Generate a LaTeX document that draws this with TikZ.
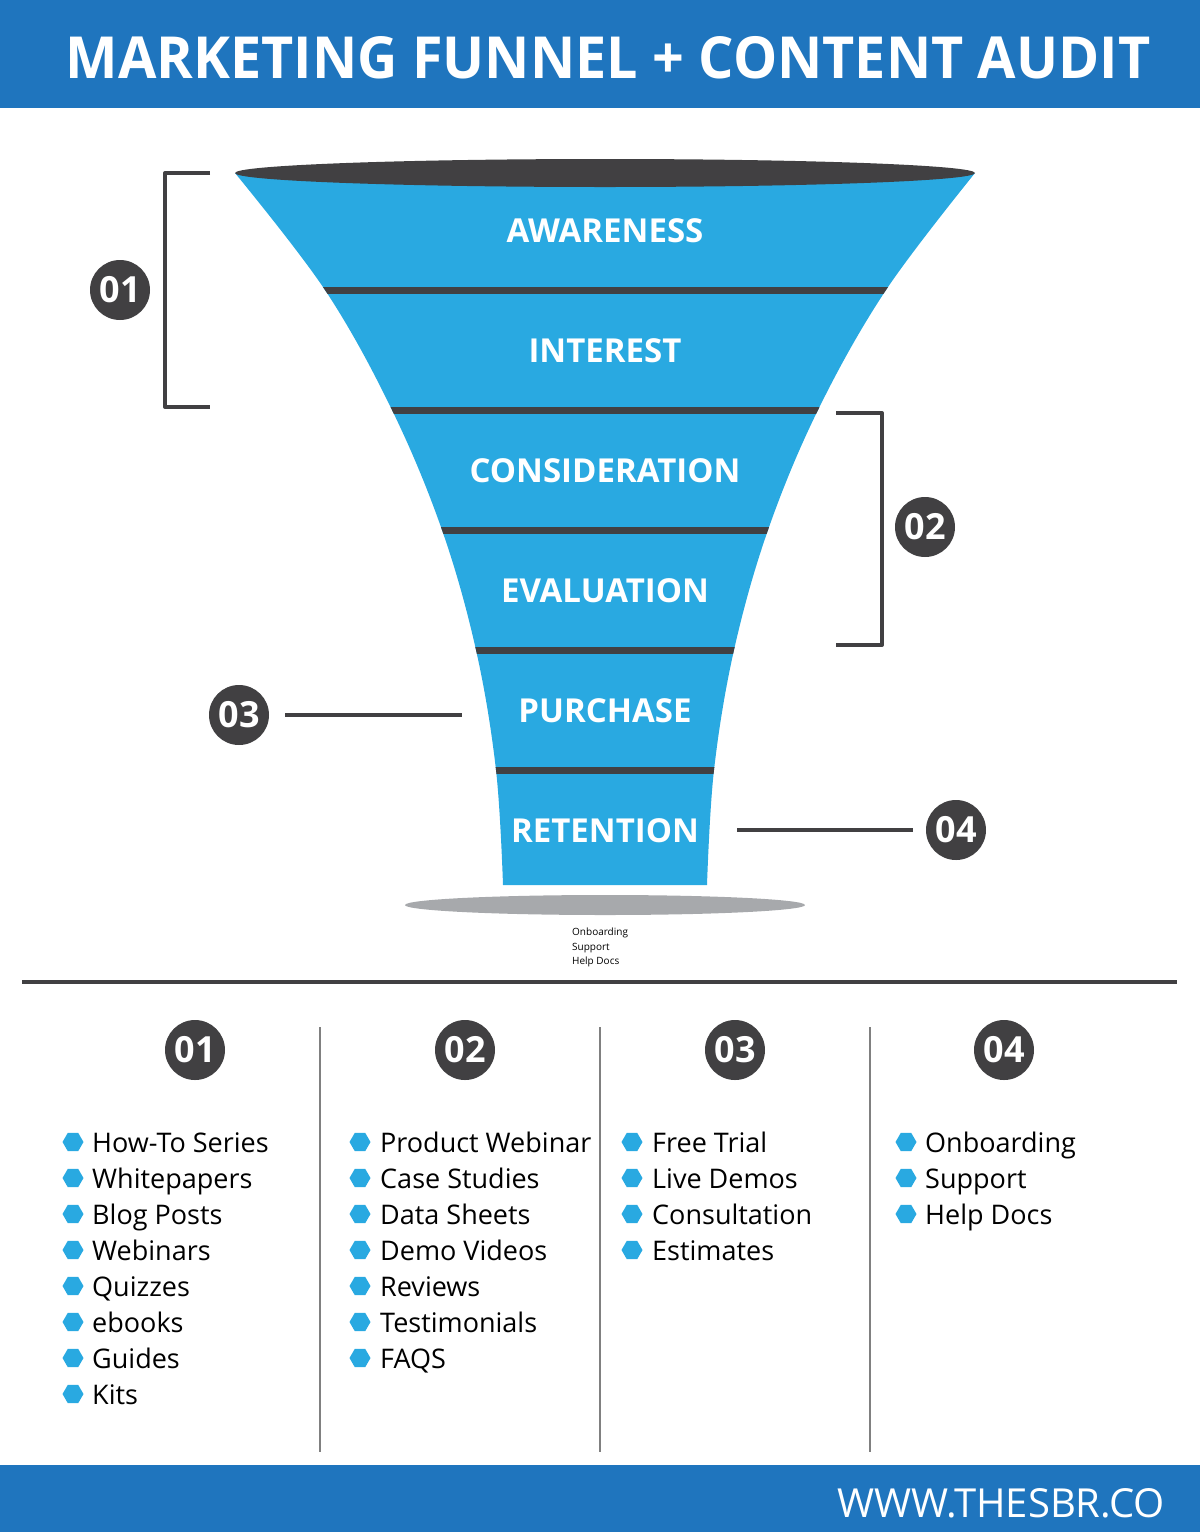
\documentclass[tikz,border=0pt]{standalone}
\usepackage{fontspec}
\setmainfont{Open Sans}
\newfontfamily\titlefont[FakeStretch=0.96]{Open Sans}
\usetikzlibrary{shapes.geometric}

\definecolor{sbrblue}{HTML}{1F75BE}
\definecolor{funnelblue}{HTML}{29A9E1}
\definecolor{funneldark}{HTML}{414042}
\definecolor{rimgray}{HTML}{A7A9AC}

% outline of the funnel body, used for the fill and the clip
\def\funnelpath{plot[smooth,tension=0.6] coordinates {(235,173) (325,290) (392,410) (442,530) (476,650) (496,770) (503,885)}
  -- plot[smooth,tension=0.6] coordinates {(707,885) (714,770) (734,650) (768,530) (818,410) (886,290) (975,173)} -- cycle}

\tikzset{
  numdot/.style={circle,fill=funneldark,text=white,minimum size=60pt,inner sep=0pt,
    font=\fontsize{36}{40}\selectfont\bfseries},
  stage/.style={text=white,inner sep=0pt,font=\fontsize{33}{40}\selectfont\bfseries},
  bar/.style={funneldark,line width=4pt},
  hexdot/.style={regular polygon,regular polygon sides=6,fill=funnelblue,minimum size=21pt,inner sep=0pt},
  item/.style={anchor=base west,inner sep=0pt,font=\fontsize{27}{32}\selectfont},
}

\begin{document}
\begin{tikzpicture}[x=1pt,y=-1pt,line join=round]
	\useasboundingbox (0,0) rectangle (1200,1532);
	
	% header and footer
	\fill[sbrblue] (0,0) rectangle (1200,108);
	\node[text=white,font=\fontsize{58}{64}\titlefont\bfseries] (title) at (608,58) {MARKETING FUNNEL + CONTENT AUDIT};
	\fill[sbrblue] (0,1465) rectangle (1200,1532);
	\node[text=white,font=\fontsize{40}{46}\selectfont] (site) at (1001,1503) {WWW.THESBR.CO};
	
	% funnel
	\fill[funnelblue] \funnelpath;
	\begin{scope}
		\clip \funnelpath;
		\foreach \y in {290,410,530,650,770}
			\draw[funneldark,line width=7pt] (200,\y) -- (1000,\y);
	\end{scope}
	\fill[funneldark] (605,173) ellipse[x radius=370,y radius=14];
	\fill[rimgray] (605,905) ellipse[x radius=200,y radius=10];
	\foreach \t [count=\i] in {AWARENESS,INTEREST,CONSIDERATION,EVALUATION,PURCHASE,RETENTION}
		\node[stage] (stage\i) at (605,{111+120*\i}) {\t};
	\node[anchor=north west,align=left,inner sep=0pt,font=\fontsize{10}{14.5}\selectfont] (rimnote) at (572,928) {Onboarding\\Support\\Help Docs};
	
	% brackets and markers
	\draw[bar] (210,173) -| (165,407) -- (210,407);
	\draw[bar] (836,413) -| (882,645) -- (836,645);
	\node[numdot] (n1) at (120,290) {01};
	\node[numdot] (n2) at (925,527) {02};
	\node[numdot] (n3) at (239,715) {03};
	\node[numdot] (n4) at (956,830) {04};
	\coordinate (c3) at (462,715);
	\coordinate (c4) at (737,830);
	\draw[bar] ([xshift=16pt]n3.east) -- (c3);
	\draw[bar] (c4) -- ([xshift=-13pt]n4.west);
	
	% content audit
	\draw[funneldark,line width=3.5pt] (22,982) -- (1177,982);
	\foreach \x in {320,600,870}
		\draw[gray,line width=1.2pt] (\x,1027) -- (\x,1452);
	\foreach \x/\n in {195/01,465/02,735/03,1004/04}
		\node[numdot] (col\n) at (\x,1050) {\n};
	
	\foreach \t [count=\i from 0] in {How-To Series,Whitepapers,Blog Posts,Webinars,Quizzes,ebooks,Guides,Kits}{
		\node[hexdot] (ba\i) at (73,1142+36*\i) {};
		\node[item] (ta\i) at (92,1152+36*\i) {\t};
	}
	\foreach \t [count=\i from 0] in {Product Webinar,Case Studies,Data Sheets,Demo Videos,Reviews,Testimonials,FAQS}{
		\node[hexdot] (bb\i) at (360,1142+36*\i) {};
		\node[item] (tb\i) at (380,1152+36*\i) {\t};
	}
	\foreach \t [count=\i from 0] in {Free Trial,Live Demos,Consultation,Estimates}{
		\node[hexdot] (bc\i) at (632,1142+36*\i) {};
		\node[item] (tc\i) at (652,1152+36*\i) {\t};
	}
	\foreach \t [count=\i from 0] in {Onboarding,Support,Help Docs}{
		\node[hexdot] (bd\i) at (906,1142+36*\i) {};
		\node[item] (td\i) at (925,1152+36*\i) {\t};
	}
\end{tikzpicture}
\end{document}
